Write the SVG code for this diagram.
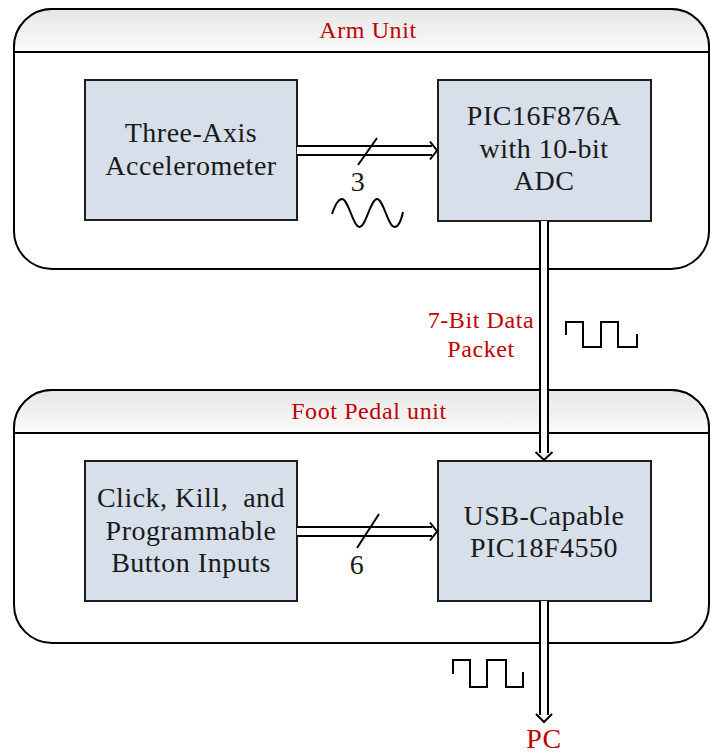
<svg xmlns="http://www.w3.org/2000/svg" width="711" height="754" viewBox="0 0 711 754">
<style>
.cont{fill:#ffffff;stroke:#000;stroke-width:2}
.hdr{fill:url(#hg);stroke:#000;stroke-width:2}
.box{fill:#d6dfea;stroke:#1e1e1e;stroke-width:2}
.t{font-family:"Liberation Serif","DejaVu Serif",serif;font-size:28px;letter-spacing:0.5px;fill:#1a1a1a;text-anchor:middle}
.r{font-family:"Liberation Serif","DejaVu Serif",serif;font-size:24px;letter-spacing:0.6px;fill:#c00000;text-anchor:middle}
.ln{fill:none;stroke:#000;stroke-width:2}
.shaft{fill:#fff;stroke:none}
</style>
<defs>
<linearGradient id="hg" x1="0" y1="0" x2="0" y2="1">
<stop offset="0" stop-color="#e6e6e6"/>
<stop offset="1" stop-color="#fbfbfb"/>
</linearGradient>
</defs>
<rect width="711" height="754" fill="#fff"/>
<g id="arm-unit">
<rect class="cont" x="14" y="9" width="695" height="260" rx="38" ry="38"/>
<path class="hdr" d="M14,52 V47 A38,38 0 0 1 52,9 H671 A38,38 0 0 1 709,47 V52 Z"/>
<text class="r" x="368" y="38">Arm Unit</text>
</g>
<g id="foot-pedal-unit">
<rect class="cont" x="14" y="390" width="695" height="253" rx="38" ry="38"/>
<path class="hdr" d="M14,433 V428 A38,38 0 0 1 52,390 H671 A38,38 0 0 1 709,428 V433 Z"/>
<text class="r" x="369" y="419">Foot Pedal unit</text>
</g>
<g id="accelerometer">
<rect class="box" x="85" y="80" width="212" height="140"/>
<text class="t" x="191" y="142">Three-Axis</text>
<text class="t" x="191" y="175">Accelerometer</text>
</g>
<g id="pic16f876a">
<rect class="box" x="438" y="80" width="213" height="141"/>
<text class="t" x="544" y="125">PIC16F876A</text>
<text class="t" x="544" y="158">with 10-bit</text>
<text class="t" x="544" y="190">ADC</text>
</g>
<g id="button-inputs">
<rect class="box" x="85" y="461" width="212" height="140"/>
<text class="t" x="191" y="507" xml:space="preserve">Click, Kill,  and</text>
<text class="t" x="191" y="540">Programmable</text>
<text class="t" x="191" y="572">Button Inputs</text>
</g>
<g id="pic18f4550">
<rect class="box" x="438" y="461" width="213" height="140"/>
<text class="t" x="544" y="525">USB-Capable</text>
<text class="t" x="544" y="557">PIC18F4550</text>
</g>
<g id="connectors">
<!-- accelerometer to PIC16 -->
<rect class="shaft" x="297" y="146" width="135" height="9"/>
<path class="ln" d="M297,146 H432 M297,155 H432 M430,141.5 L437,150.5 L430,159.5"/>
<path class="ln" d="M358,165 L377,138"/>
<text class="t" x="358" y="191">3</text>
<path class="ln" d="M332,214 C335,205 338,199 342,199 C348.4,199 353.1,227 359.5,227 C365.9,227 370.6,199 377,199 C383.4,199 388.1,227 394.5,227 C399,227 401.5,219 403,212"/>
<!-- PIC16 to PIC18 -->
<rect class="shaft" x="540" y="221" width="8" height="232"/>
<path class="ln" d="M540,221 V453 M548,221 V453 M535.5,452 L544,460 L552.5,452"/>
<text class="r" x="481" y="328">7-Bit Data</text>
<text class="r" x="481" y="357">Packet</text>
<path class="ln" d="M566,335 V322 H583 V347 H601 V322 H618 V347 H637 V334"/>
<!-- buttons to PIC18 -->
<rect class="shaft" x="297" y="527" width="135" height="9"/>
<path class="ln" d="M297,527 H432 M297,536 H432 M430,522.5 L437,531.5 L430,540.5"/>
<path class="ln" d="M357,548 L379,514"/>
<text class="t" x="357" y="574">6</text>
<!-- PIC18 to PC -->
<rect class="shaft" x="540" y="601" width="8" height="114"/>
<path class="ln" d="M540,601 V715 M548,601 V715 M536,714 L544,722 L552,714"/>
<path class="ln" d="M453,674 V660 H470 V687 H487 V660 H506 V687 H523 V672"/>
<text class="r" x="544" y="748" style="font-size:28px">PC</text>
</g>
</svg>
